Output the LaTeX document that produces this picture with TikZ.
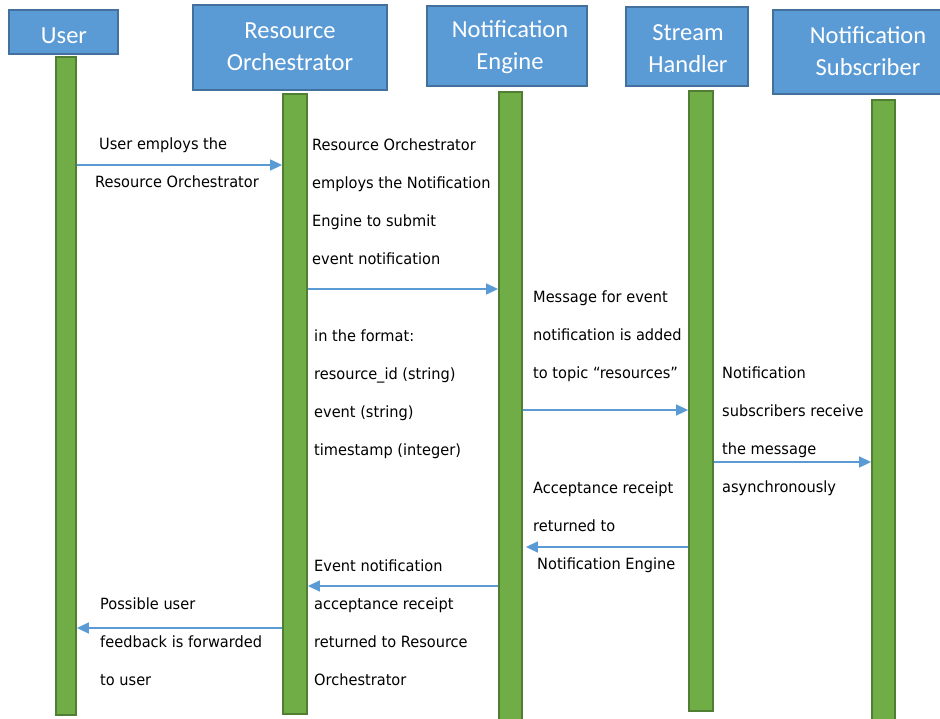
\documentclass[tikz,border=0pt]{standalone}
\usepackage{fontspec}
\setmainfont{DejaVu Sans}[FakeStretch=0.94]
\newfontfamily\headfont{Carlito}
\usetikzlibrary{arrows.meta}
\definecolor{hdrfill}{HTML}{5B9BD5}
\definecolor{hdrline}{HTML}{41719C}
\definecolor{barfill}{HTML}{70AD47}
\definecolor{barline}{HTML}{507E32}
\definecolor{msgcol}{HTML}{5B9BD5}
\begin{document}
\begin{tikzpicture}[x=1pt,y=-1pt,
  header/.style={draw=hdrline, fill=hdrfill, line width=1.8pt, inner sep=0pt},
  hdrtext/.style={text=white, font=\headfont\fontsize{24.5}{32}\selectfont,
    align=center, inner sep=0pt},
  lifebar/.style={draw=barline, fill=barfill, line width=1.8pt, inner sep=0pt},
  msg/.style={draw=msgcol, line width=1.6pt, -{Triangle[length=12pt,width=11pt]}},
  lbl/.style={font=\fontsize{15.5}{38}\selectfont, align=left, anchor=west,
    inner sep=0pt, text=black}]
\useasboundingbox (0,0) rectangle (940,718);
\clip (0,0) rectangle (940,718);

% participant headers
\node[header, minimum width=109pt, minimum height=44pt] (huser) at (63.5,32) {};
\node[header, minimum width=194pt, minimum height=85pt] (hro) at (290,47.5) {};
\node[header, minimum width=160pt, minimum height=80pt] (hne) at (507,46) {};
\node[header, minimum width=122pt, minimum height=79pt] (hsh) at (687,46.5) {};
\node[header, minimum width=190pt, minimum height=84pt] (hns) at (868,52) {};
\node[hdrtext] (huser-t) at (64,36) {User};
\node[hdrtext] (hro-t) at (290,46.5) {Resource\\Orchestrator};
\node[hdrtext] (hne-t) at (510,47.5) {Notification\\Engine};
\node[hdrtext] (hsh-t) at (688,49) {Stream\\Handler};
\node[hdrtext] (hns-t) at (868,51.5) {Notification\\Subscriber};

% lifelines
\node[lifebar, minimum width=20pt, minimum height=658pt] (buser) at (66,386) {};
\node[lifebar, minimum width=24pt, minimum height=620pt] (bro) at (295,404) {};
\node[lifebar, minimum width=23pt, minimum height=630pt] (bne) at (510.5,407) {};
\node[lifebar, minimum width=24pt, minimum height=620pt] (bsh) at (701,401) {};
\node[lifebar, minimum width=23pt, minimum height=622pt] (bns) at (883.5,411) {};

% messages
\draw[msg] (buser.east |- 0,165) -- (bro.west |- 0,165);
\draw[msg] (bro.east |- 0,289) -- (bne.west |- 0,289);
\draw[msg] (bne.east |- 0,410) -- (bsh.west |- 0,410);
\draw[msg] (bsh.east |- 0,462) -- (bns.west |- 0,462);
\draw[msg] (bsh.west |- 0,547) -- ([xshift=3pt]bne.east |- 0,547);
\draw[msg] (bne.west |- 0,586) -- (bro.east |- 0,586);
\draw[msg] (bro.west |- 0,628) -- (buser.east |- 0,628);

% message texts
\node[lbl] (ta) at (99,145) {User employs the};
\node[lbl] (tb) at (95,182) {Resource Orchestrator};
\node[lbl] (tc) at (312,202) {Resource Orchestrator\\employs the Notification\\Engine to submit\\event notification};
\node[lbl] (td) at (314,394) {in the format:\\resource\_id (string)\\event (string)\\timestamp (integer)};
\node[lbl] (te) at (533,336) {Message for event\\notification is added\\to topic “resources”};
\node[lbl] (tf) at (722,431) {Notification\\subscribers receive\\the message\\asynchronously};
\node[lbl] (tg) at (533,527) {Acceptance receipt\\returned to\\\hspace*{4pt}Notification Engine};
\node[lbl] (th) at (314,623) {Event notification\\acceptance receipt\\returned to Resource\\Orchestrator};
\node[lbl] (ti) at (100,642) {Possible user\\feedback is forwarded\\to user};
\end{tikzpicture}
\end{document}
